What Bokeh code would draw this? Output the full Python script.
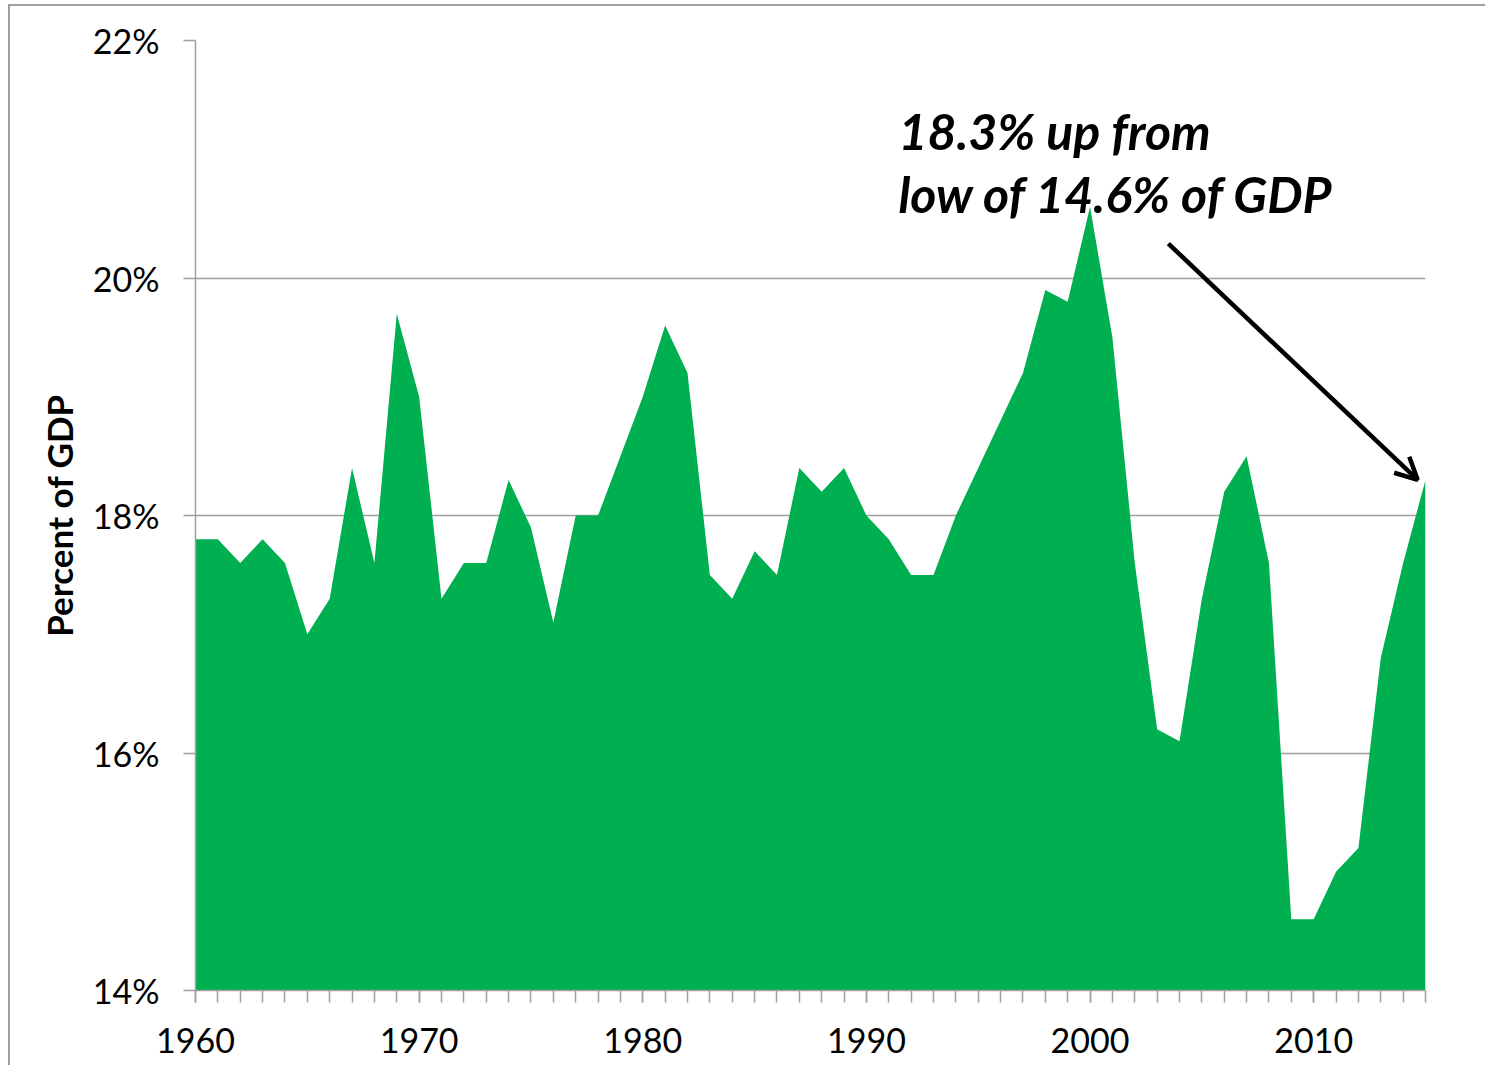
from bokeh.plotting import figure
from bokeh.models import (Range1d, FixedTicker, PrintfTickFormatter, Label,
                          Arrow, OpenHead, ColumnDataSource)
from bokeh.embed import file_html
from bokeh.resources import INLINE

# ---- data ----
years = list(range(1960, 2016))
revenue_pct_gdp = [
    17.8, 17.8, 17.6, 17.8, 17.6, 17.0, 17.3, 18.4, 17.6, 19.7,   # 1960s
    19.0, 17.3, 17.6, 17.6, 18.3, 17.9, 17.1, 18.0, 18.0, 18.5,   # 1970s
    19.0, 19.6, 19.2, 17.5, 17.3, 17.7, 17.5, 18.4, 18.2, 18.4,   # 1980s
    18.0, 17.8, 17.5, 17.5, 18.0, 18.4, 18.8, 19.2, 19.9, 19.8,   # 1990s
    20.6, 19.5, 17.6, 16.2, 16.1, 17.3, 18.2, 18.5, 17.6, 14.6,   # 2000s
    14.6, 15.0, 15.2, 16.8, 17.6, 18.3,                           # 2010s
]
x_major_ticks = [1960, 1970, 1980, 1990, 2000, 2010]
y_ticks = [14, 16, 18, 20, 22]
y_min, y_max = 14, 22
annotation_lines = ["18.3% up from", "low of 14.6% of GDP"]
y_axis_title = "Percent of GDP"

FONT = "Lato"
GRID = "#a0a0a0"
GREEN = "#00B050"

src = ColumnDataSource(dict(year=years, val=revenue_pct_gdp,
                            base=[y_min] * len(years)))

p = figure(frame_width=1230, frame_height=950,
           x_range=Range1d(years[0], years[-1]),
           y_range=Range1d(y_min, y_max),
           output_backend="svg", toolbar_location=None,
           min_border_left=185, min_border_right=60,
           min_border_top=34, min_border_bottom=75)
p.styles = {"margin-left": "8px", "margin-top": "4px",
            "border-left": "2px solid #a0a0a0", "border-top": "2px solid #a0a0a0"}
p.outline_line_color = None
p.background_fill_color = "white"
p.border_fill_color = "white"

p.xgrid.visible = False
p.ygrid.ticker = FixedTicker(ticks=y_ticks)
p.ygrid.grid_line_color = GRID
p.ygrid.grid_line_width = 1.5

p.varea(x="year", y1="base", y2="val", source=src, fill_color=GREEN)

# x axis
xa = p.xaxis[0]
xa.ticker = FixedTicker(ticks=x_major_ticks, minor_ticks=years)
xa.axis_line_color = GRID
xa.axis_line_width = 1.5
xa.major_tick_line_color = GRID
xa.minor_tick_line_color = GRID
xa.major_tick_line_width = 1.5
xa.minor_tick_line_width = 1.5
xa.major_tick_in = 0
xa.major_tick_out = 12
xa.minor_tick_in = 0
xa.minor_tick_out = 12
xa.major_label_text_font = FONT
xa.major_label_text_font_size = "34px"
xa.major_label_text_color = "black"
xa.major_label_standoff = 25

# y axis
ya = p.yaxis[0]
ya.ticker = FixedTicker(ticks=y_ticks, minor_ticks=[])
ya.formatter = PrintfTickFormatter(format="%d%%")
ya.axis_line_color = GRID
ya.axis_line_width = 1.5
ya.major_tick_line_color = GRID
ya.major_tick_line_width = 1.5
ya.major_tick_in = 0
ya.major_tick_out = 12
ya.minor_tick_line_color = None
ya.major_label_text_font = FONT
ya.major_label_text_font_size = "34px"
ya.major_label_text_color = "black"
ya.major_label_standoff = 24
ya.axis_label = y_axis_title
ya.axis_label_text_font = FONT
ya.axis_label_text_font_size = "35px"
ya.axis_label_text_font_style = "bold"
ya.axis_label_text_color = "black"
ya.axis_label_standoff = 10

# annotation
text_x = 1991.43
p.add_layout(Label(x=text_x, y=21.24, text=annotation_lines[0],
                   text_font=FONT, text_font_size="50px",
                   text_font_style="bold italic", text_color="black",
                   text_baseline="alphabetic"))
p.add_layout(Label(x=text_x, y=20.71, text=annotation_lines[1],
                   text_font=FONT, text_font_size="50px",
                   text_font_style="bold italic", text_color="black",
                   text_baseline="alphabetic"))
p.add_layout(Arrow(end=OpenHead(size=22, line_width=4.5, line_color="black"),
                   x_start=2003.5, y_start=20.29,
                   x_end=years[-1] - 0.35, y_end=revenue_pct_gdp[-1] + 0.0,
                   line_width=4.5, line_color="black"))

open("out.html", "w").write(file_html(p, INLINE))
